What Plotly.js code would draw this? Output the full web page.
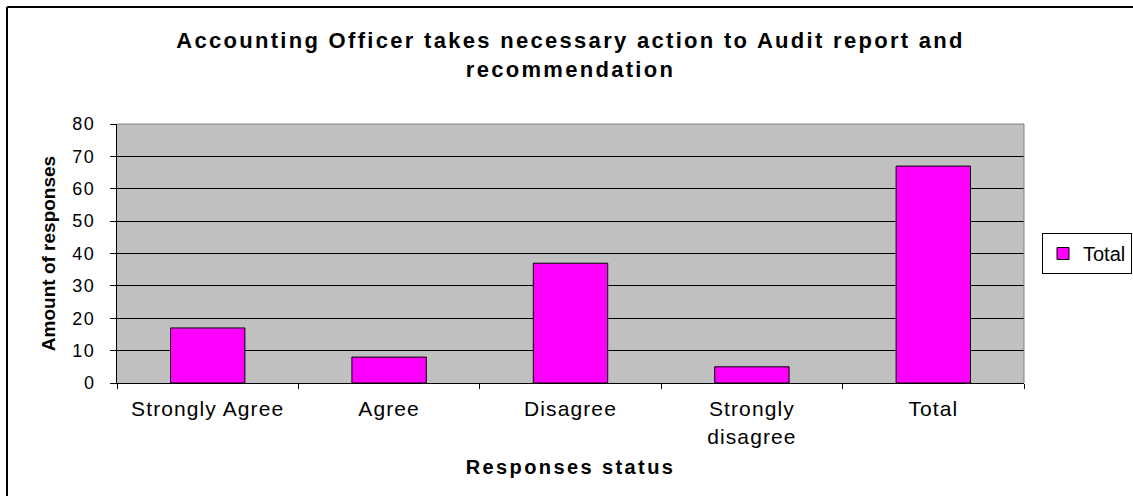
<!DOCTYPE html>
<html>
<head>
<meta charset="utf-8">
<script src="https://cdn.plot.ly/plotly-3.0.1.min.js"></script>
<style>
html,body{margin:0;padding:0;background:#fff;}
#chart{width:1133px;height:496px;}
#chart text.gtitle{letter-spacing:2.3px;}
#chart text.xtitle{letter-spacing:2.4px;}
#chart .ytick text{letter-spacing:1.5px;}
#chart .xtick text{letter-spacing:1.1px;}
</style>
</head>
<body>
<div id="chart"></div>
<script>
const categories = ["Strongly Agree", "Agree", "Disagree", "Strongly disagree", "Total"];
const tickLabels = ["Strongly Agree", "Agree", "Disagree", "Strongly<br>disagree", "Total"];
const totalValues = [17, 8, 37, 5, 67];
const seriesName = "Total";
const yTicks = [0, 10, 20, 30, 40, 50, 60, 70, 80];

const FONT = "Liberation Sans, Arial, sans-serif";

const trace = {
  type: "bar",
  x: categories,
  y: totalValues,
  name: seriesName,
  marker: {color: "#FF00FF", line: {color: "#000000", width: 1}},
  showlegend: true,
  hoverinfo: "x+y"
};

const layout = {
  width: 1133,
  height: 496,
  margin: {l: 117, r: 109, t: 124, b: 113, pad: 0, autoexpand: false},
  paper_bgcolor: "#ffffff",
  plot_bgcolor: "#C0C0C0",
  bargap: 0.59,
  showlegend: true,
  font: {family: FONT, color: "#000000", size: 15},
  title: {
    text: "<b>Accounting Officer takes necessary action to Audit report and<br>recommendation</b>",
    font: {family: FONT, size: 22, color: "#000"},
    x: 0.5, xref: "paper", xanchor: "center",
    y: 1 - 48/496, yref: "container", yanchor: "middle"
  },
  xaxis: {
    type: "category",
    tickvals: categories,
    ticktext: tickLabels,
    tickson: "boundaries",
    ticks: "outside",
    ticklen: 5,
    tickcolor: "#000",
    tickwidth: 1,
    showline: true,
    linecolor: "#000",
    linewidth: 1,
    mirror: false,
    showgrid: false,
    zeroline: false,
    tickfont: {family: FONT, size: 21, color: "#000"},
    ticklabelstandoff: 7,
    title: {text: "<b>Responses status</b>", font: {family: FONT, size: 20, color: "#000"}, standoff: 13},
    fixedrange: true
  },
  yaxis: {
    range: [0, 80],
    tickvals: yTicks,
    ticks: "outside",
    ticklen: 6,
    tickcolor: "#000",
    showline: true,
    linecolor: "#000",
    linewidth: 1,
    showgrid: true,
    gridcolor: "#000000",
    gridwidth: 1,
    zeroline: false,
    tickfont: {family: FONT, size: 18, color: "#000"},
    ticklabelstandoff: 11,
    title: {text: "<b>Amount of responses</b>", font: {family: FONT, size: 19, color: "#000"}, standoff: 14},
    fixedrange: true
  },
  legend: {
    x: (1042 - 117) / 907, xref: "paper", xanchor: "left",
    y: 0.5, yref: "paper", yanchor: "middle",
    bgcolor: "#ffffff",
    bordercolor: "#000000",
    borderwidth: 1,
    font: {family: FONT, size: 20, color: "#000"},
    itemwidth: 30
  },
  shapes: [
    {type: "line", xref: "paper", yref: "paper", x0: 0, x1: 1, y0: 1, y1: 1, line: {color: "#808080", width: 1}},
    {type: "line", xref: "paper", yref: "paper", x0: 1, x1: 1, y0: 0, y1: 1, line: {color: "#808080", width: 1}},
    {type: "line", xref: "paper", yref: "paper", x0: (7 - 117)/907, x1: (1140 - 117)/907, y0: (383 - 7)/259, y1: (383 - 7)/259, line: {color: "#000", width: 2}},
    {type: "line", xref: "paper", yref: "paper", x0: (7 - 117)/907, x1: (7 - 117)/907, y0: (383 - 7)/259, y1: (383 - 500)/259, line: {color: "#000", width: 2}}
  ]
};

Plotly.newPlot("chart", [trace], layout, {displayModeBar: false, staticPlot: true});
</script>
</body>
</html>
